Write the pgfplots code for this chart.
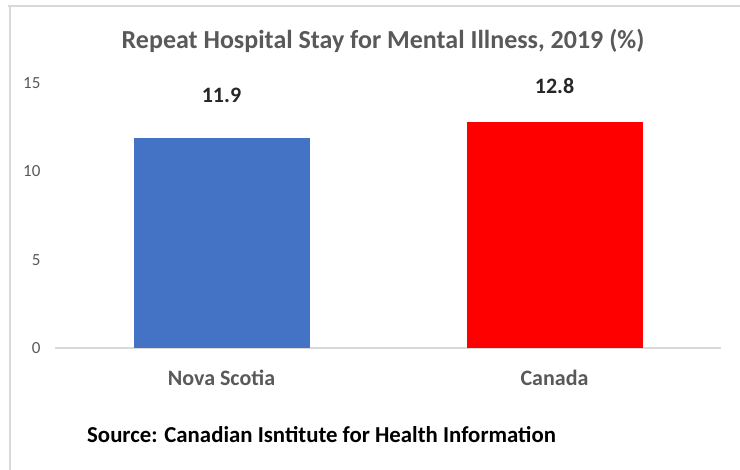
\documentclass[border=0pt]{standalone}
\usepackage{pgfplots}
\pgfplotsset{compat=1.18}
\usepackage{fontspec}
\setmainfont{Carlito}
\definecolor{txtgray}{HTML}{595959}
\definecolor{linegray}{HTML}{D9D9D9}
\definecolor{barblue}{HTML}{4472C4}
\definecolor{barred}{HTML}{FF0000}
\begin{document}
\begin{tikzpicture}[x=1bp,y=1bp]
\path[use as bounding box] (0,0) rectangle (740,470);
\draw[linegray, line width=1.5bp] (8,464) -- (740,464);
\draw[linegray, line width=1.5bp] (10,464) -- (10,0);
\node[anchor=base, inner sep=0pt, text=txtgray, font=\fontsize{26bp}{30bp}\selectfont\bfseries] at (383,421) {Repeat Hospital Stay for Mental Illness, 2019 (\%)};
\node[anchor=base west, inner sep=0pt, text=black, font=\fontsize{22.8bp}{27bp}\selectfont\bfseries] at (87,27) {Source: Canadian Isntitute for Health Information};
\begin{axis}[
  at={(55bp,122bp)}, anchor=south west,
  scale only axis, width=666bp, height=265bp,
  xmin=-0.5, xmax=1.5, ymin=0, ymax=15,
  axis x line=bottom, axis y line=left,
  x axis line style={draw=linegray, line width=1.2bp, -},
  y axis line style={draw=none},
  xtick={0,1}, xticklabels={Nova Scotia, Canada},
  ytick={0,5,10,15},
  major tick length=0pt,
  xticklabel style={anchor=base, yshift=-38bp, text=txtgray, font=\fontsize{22bp}{26bp}\selectfont\bfseries},
  yticklabel style={anchor=east, xshift=-11bp, text=txtgray, font=\fontsize{17bp}{20bp}\selectfont},
  /pgf/number format/assume math mode=true,
  clip=false,
  ybar, bar width=176bp,
]
\addplot[fill=barblue, draw=none, bar shift=0pt,
  nodes near coords, point meta=explicit symbolic,
  every node near coord/.append style={anchor=base, yshift=35bp, text=black!85, font=\fontsize{22bp}{26bp}\selectfont\bfseries}]
  coordinates {(0,11.9) [11.9]};
\addplot[fill=barred, draw=none, bar shift=0pt,
  nodes near coords, point meta=explicit symbolic,
  every node near coord/.append style={anchor=base, yshift=28bp, text=black!85, font=\fontsize{22bp}{26bp}\selectfont\bfseries}]
  coordinates {(1,12.8) [12.8]};
\end{axis}
\end{tikzpicture}
\end{document}
